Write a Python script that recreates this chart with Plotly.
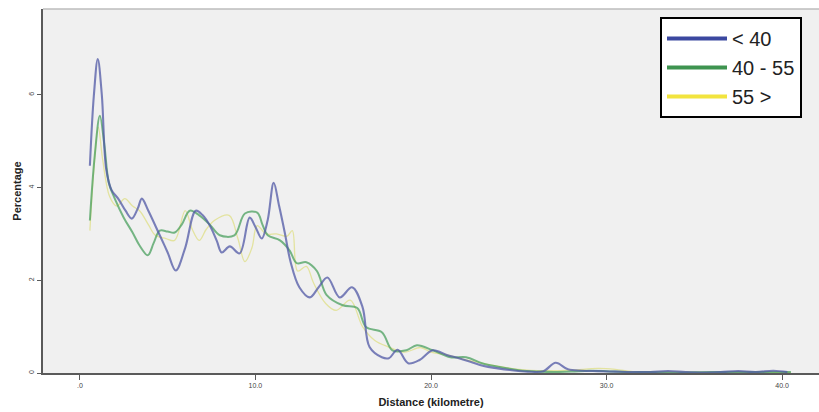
import plotly.graph_objects as go

# ---- data ----
series_names = ["< 40", "40 - 55", "55 >"]

blue_x = [0.57, 0.8, 1.02, 1.25, 1.5, 1.8, 2.2, 2.6, 2.96, 3.3, 3.53, 3.9, 4.55, 5.0, 5.46, 6.0, 6.6, 7.0,
          7.4, 7.8, 8.08, 8.54, 9.1, 9.67, 10.0, 10.36, 10.7, 11.04, 11.35, 11.67, 12.0, 12.5, 13.1, 13.6,
          14.1, 14.8, 15.5, 16.1, 16.5, 17.2, 17.6, 18.1, 18.7, 19.35, 20.1, 20.9, 21.5, 22.2, 23.0, 23.8,
          24.6, 25.5, 26.4, 27.1, 27.8, 28.6, 29.5, 30.5, 31.5, 32.5, 33.5, 34.5, 35.5, 36.5, 37.5, 38.5,
          39.5, 40.3]
blue_y = [4.47, 6.0, 6.77, 6.0, 4.4, 3.95, 3.75, 3.5, 3.33, 3.55, 3.76, 3.5, 2.97, 2.6, 2.21, 2.7, 3.5, 3.4,
          3.18, 2.85, 2.6, 2.73, 2.58, 3.35, 3.15, 2.9, 3.3, 4.1, 3.6, 3.03, 2.4, 1.85, 1.63, 1.85,
          2.06, 1.63, 1.85, 1.42, 0.56, 0.34, 0.32, 0.5, 0.21, 0.28, 0.49, 0.39, 0.33, 0.25, 0.15, 0.1,
          0.06, 0.03, 0.04, 0.22, 0.08, 0.05, 0.04, 0.03, 0.02, 0.02, 0.04, 0.02, 0.01, 0.02, 0.04, 0.02,
          0.05, 0.02]

green_x = [0.57, 0.85, 1.14, 1.4, 1.65, 2.0, 2.5, 3.0, 3.4, 3.87, 4.2, 4.55, 5.0, 5.4, 5.8, 6.26, 6.8, 7.4,
           7.97, 8.8, 9.4, 10.1, 10.4, 10.7, 11.4, 11.95, 12.35, 12.9, 13.5, 14.06, 14.97, 15.8, 16.3,
           17.2, 17.8, 18.6, 19.2, 20.1, 21.1, 22.0, 22.9, 23.9, 25.0, 26.0, 27.0, 28.0, 29.0, 30.0,
           31.0, 32.5, 34.0, 36.0, 38.0, 40.5]
green_y = [3.29, 4.7, 5.55, 4.9, 4.1, 3.75, 3.35, 3.03, 2.75, 2.54, 2.8, 3.07, 3.05, 3.03, 3.2, 3.5, 3.4, 3.2,
           2.97, 2.97, 3.44, 3.46, 3.2, 2.97, 2.86, 2.64, 2.37, 2.39, 2.2, 1.68, 1.46, 1.4, 0.99,
           0.88, 0.49, 0.49, 0.6, 0.49, 0.34, 0.34, 0.21, 0.13, 0.06, 0.03, 0.02, 0.03, 0.05, 0.04,
           0.02, 0.02, 0.01, 0.02, 0.02, 0.02]

yellow_x = [0.57, 0.8, 1.05, 1.3, 1.7, 2.1, 2.56, 3.0, 3.4, 3.9, 4.3, 4.9, 5.4, 6.0, 6.4, 6.8, 7.2, 7.7,
            8.5, 9.0, 9.4, 9.8, 10.1, 10.6, 11.2, 11.8, 12.1, 12.4, 12.9, 13.3, 14.0, 14.6, 15.4, 16.1,
            16.8, 17.6, 18.5, 19.4, 20.0, 20.8, 21.8, 22.8, 23.8, 25.0, 26.5, 28.0, 29.5, 30.5, 31.5,
            33.0, 35.0, 37.0, 39.0, 40.5]
yellow_y = [3.07, 4.4, 5.3, 4.6, 3.8, 3.6, 3.76, 3.6, 3.5, 3.2, 2.97, 2.9, 2.86, 3.5, 3.1, 2.86, 3.1, 3.3,
            3.4, 2.9, 2.4, 2.7, 3.18, 3.0, 3.0, 2.95, 3.07, 2.2, 2.3, 1.95, 1.5, 1.35, 1.57, 1.0,
            0.7, 0.56, 0.45, 0.55, 0.45, 0.4, 0.3, 0.22, 0.15, 0.08, 0.05, 0.06, 0.1, 0.08, 0.03,
            0.02, 0.02, 0.01, 0.02, 0.01]

x_tickvals = [0, 10, 20, 30, 40]
x_ticktext = [".0", "10.0", "20.0", "30.0", "40.0"]
y_tickvals = [0, 2, 4, 6]
y_ticktext = ["0", "2", "4", "6"]

# ---- styling ----
line_colors = ["rgba(80,88,165,0.75)", "rgba(75,160,95,0.75)", "rgba(225,225,150,0.9)"]
line_widths = [2.1, 2.0, 1.3]
legend_colors = ["#3B48A0", "#3E9450", "#F2E43E"]

fig = go.Figure()
xs = [blue_x, green_x, yellow_x]
ys = [blue_y, green_y, yellow_y]
order = [2, 1, 0]  # draw yellow first, blue on top
for i in order:
    fig.add_trace(go.Scatter(
        x=xs[i], y=ys[i], mode="lines", name=series_names[i],
        line=dict(color=line_colors[i], width=line_widths[i], shape="spline", smoothing=1.0),
        showlegend=False, hoverinfo="x+y"))
for i in range(3):
    fig.add_trace(go.Scatter(
        x=[None], y=[None], mode="lines", name=series_names[i],
        line=dict(color=legend_colors[i], width=4), showlegend=True))

fig.update_layout(
    width=819, height=412,
    margin=dict(l=43, r=0, t=9, b=39),
    paper_bgcolor="white", plot_bgcolor="#F0F0F0",
    font=dict(family="Liberation Sans, Arial, sans-serif", color="#333"),
    xaxis=dict(range=[-2.1, 42.1], tickvals=x_tickvals, ticktext=x_ticktext,
               showgrid=False, zeroline=False, showline=True, linecolor="#5A5A5A", linewidth=2,
               ticks="outside", ticklen=5, tickcolor="#5A5A5A", tickwidth=1,
               tickfont=dict(size=7, color="#444"),
               title=dict(text="<b>Distance (kilometre)</b>", font=dict(size=11, color="#222"), standoff=10)),
    yaxis=dict(range=[0, 7.85], tickvals=y_tickvals, ticktext=y_ticktext,
               showgrid=False, zeroline=False, showline=True, linecolor="#5A5A5A", linewidth=2,
               ticks="outside", ticklen=4, tickcolor="#5A5A5A", tickwidth=1, tickangle=-90,
               tickfont=dict(size=7, color="#444"),
               title=dict(text="<b>Percentage</b>", font=dict(size=11, color="#222"), standoff=4)),
    legend=dict(x=(660 - 43) / 776, y=1 - (17 - 9) / 364, xanchor="left", yanchor="top",
                bgcolor="white", bordercolor="black", borderwidth=2,
                font=dict(size=20, color="#222"), itemwidth=60, tracegroupgap=0,
                entrywidth=78, entrywidthmode="pixels"),
    showlegend=True,
)
fig.add_shape(type="line", xref="paper", yref="paper", x0=0, x1=1, y0=1, y1=1,
              line=dict(color="#BDBDBD", width=1.5))

fig.write_html("out.html")
